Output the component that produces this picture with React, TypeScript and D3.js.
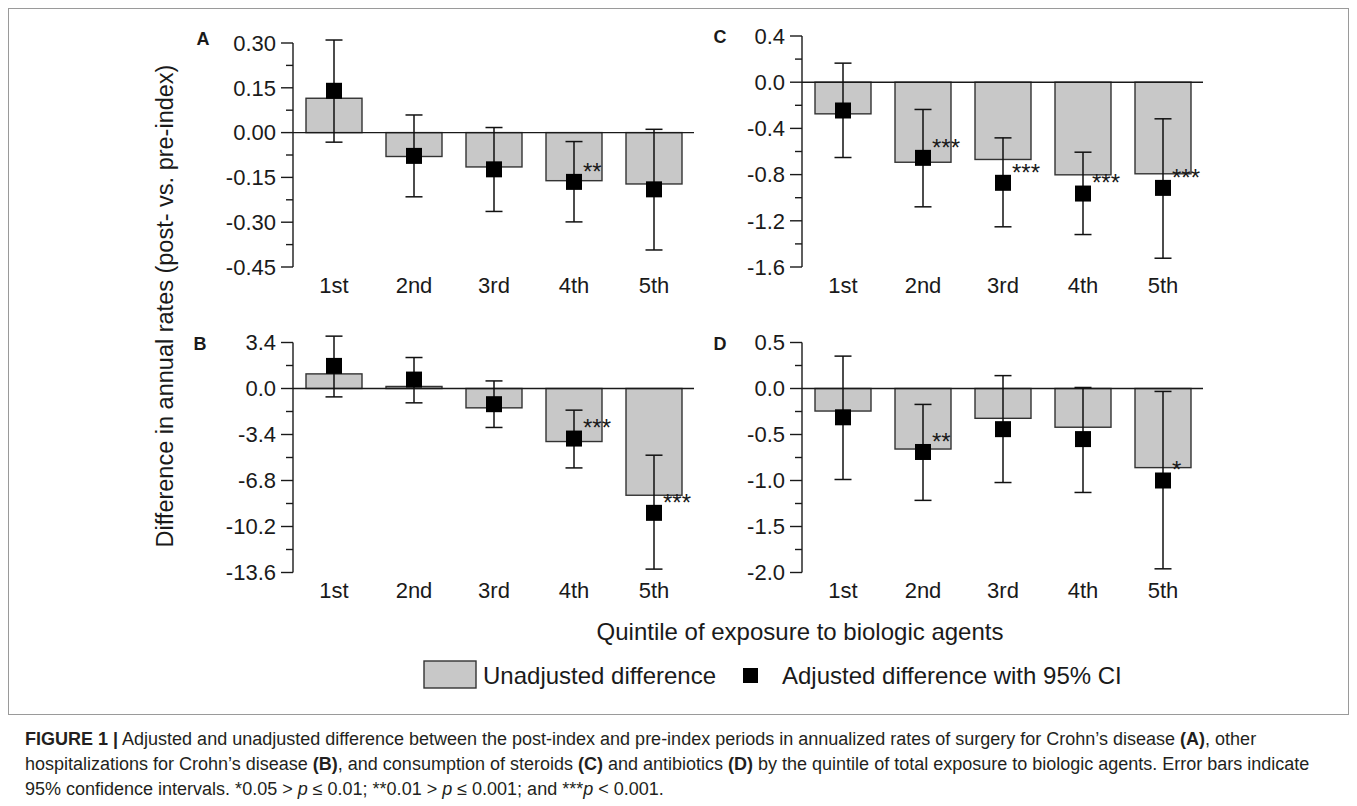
import React from "react";
import * as d3 from "d3";

// ---------- data ----------
const quintiles = ["1st", "2nd", "3rd", "4th", "5th"];

// Panel A: surgery for Crohn's disease
const surgeryTicks = [0.3, 0.15, 0.0, -0.15, -0.3, -0.45];
const surgeryUnadjusted = [0.115, -0.08, -0.115, -0.161, -0.172];
const surgeryAdjusted = [0.14, -0.078, -0.123, -0.165, -0.19];
const surgeryLow = [-0.032, -0.215, -0.264, -0.299, -0.393];
const surgeryHigh = [0.31, 0.059, 0.017, -0.03, 0.011];
const surgerySig = ["", "", "", "**", ""];

// Panel B: other hospitalizations
const hospTicks = [3.4, 0.0, -3.4, -6.8, -10.2, -13.6];
const hospUnadjusted = [1.08, 0.15, -1.43, -3.92, -7.89];
const hospAdjusted = [1.67, 0.66, -1.16, -3.7, -9.19];
const hospLow = [-0.62, -1.06, -2.88, -5.87, -13.35];
const hospHigh = [3.87, 2.29, 0.56, -1.6, -4.93];
const hospSig = ["", "", "", "***", "***"];

// Panel C: steroids
const steroidTicks = [0.4, 0.0, -0.4, -0.8, -1.2, -1.6];
const steroidUnadjusted = [-0.274, -0.693, -0.669, -0.802, -0.793];
const steroidAdjusted = [-0.245, -0.655, -0.871, -0.964, -0.915];
const steroidLow = [-0.652, -1.079, -1.252, -1.319, -1.524];
const steroidHigh = [0.165, -0.236, -0.482, -0.606, -0.317];
const steroidSig = ["", "***", "***", "***", "***"];

// Panel D: antibiotics
const antibioticTicks = [0.5, 0.0, -0.5, -1.0, -1.5, -2.0];
const antibioticUnadjusted = [-0.245, -0.658, -0.324, -0.421, -0.86];
const antibioticAdjusted = [-0.313, -0.69, -0.442, -0.55, -1.0];
const antibioticLow = [-0.989, -1.216, -1.022, -1.13, -1.96];
const antibioticHigh = [0.352, -0.173, 0.14, 0.011, -0.032];
const antibioticSig = ["", "**", "", "", "*"];

const yTitle = "Difference in annual rates (post- vs. pre-index)";
const xTitle = "Quintile of exposure to biologic agents";
const legendUnadj = "Unadjusted difference";
const legendAdj = "Adjusted difference with 95% CI";

// ---------- layout ----------
const FONT = "'Liberation Sans', Arial, Helvetica, sans-serif";
const INK = "#1a1a1a";
const BAR_FILL = "#c8c8c8";
const BAR_STROKE = "#333";

const locale = d3.formatLocale({
  decimal: ".",
  thousands: ",",
  grouping: [3],
  currency: ["", ""],
  minus: "-",
});

type Panel = {
  letter: string;
  ticks: number[];
  fmt: string;
  unadj: number[];
  adj: number[];
  lo: number[];
  hi: number[];
  sig: string[];
  x0: number;
  yTop: number;
  yBottom: number;
  letterX: number;
  letterY: number;
  labelY: number;
};

const panels: Panel[] = [
  { letter: "A", ticks: surgeryTicks, fmt: ".2f", unadj: surgeryUnadjusted, adj: surgeryAdjusted, lo: surgeryLow, hi: surgeryHigh, sig: surgerySig, x0: 294, yTop: 43, yBottom: 267, letterX: 203, letterY: 44.5, labelY: 293 },
  { letter: "B", ticks: hospTicks, fmt: ".1f", unadj: hospUnadjusted, adj: hospAdjusted, lo: hospLow, hi: hospHigh, sig: hospSig, x0: 294, yTop: 342.5, yBottom: 572.5, letterX: 200, letterY: 349.5, labelY: 598 },
  { letter: "C", ticks: steroidTicks, fmt: ".1f", unadj: steroidUnadjusted, adj: steroidAdjusted, lo: steroidLow, hi: steroidHigh, sig: steroidSig, x0: 803, yTop: 36, yBottom: 267, letterX: 720, letterY: 42.5, labelY: 293 },
  { letter: "D", ticks: antibioticTicks, fmt: ".1f", unadj: antibioticUnadjusted, adj: antibioticAdjusted, lo: antibioticLow, hi: antibioticHigh, sig: antibioticSig, x0: 803, yTop: 342.5, yBottom: 572.5, letterX: 720, letterY: 349.5, labelY: 598 },
];

function PanelView({ p }: { p: Panel }) {
  const y = d3
    .scaleLinear()
    .domain([p.ticks[0], p.ticks[p.ticks.length - 1]])
    .range([p.yTop, p.yBottom]);
  const x = d3
    .scaleBand<string>()
    .domain(quintiles)
    .range([p.x0, p.x0 + 400])
    .paddingInner(0.3)
    .paddingOuter(0.15);
  const fmt = locale.format(p.fmt);
  const axisX = p.x0 - 1;
  const minor = p.ticks.slice(0, -1).map((t, i) => (t + p.ticks[i + 1]) / 2);
  const bw = x.bandwidth();
  const sq = 16;
  const cap = 8.5;
  return (
    <g>
      <text x={p.letterX} y={p.letterY} fontSize={18} fontWeight="bold" textAnchor="middle" fill={INK}>
        {p.letter}
      </text>
      {/* bars */}
      {quintiles.map((q, i) => {
        const v = p.unadj[i];
        const y1 = y(Math.max(0, v));
        const y2 = y(Math.min(0, v));
        return (
          <rect key={"b" + q} x={x(q)} y={y1} width={bw} height={Math.max(0.5, y2 - y1)} fill={BAR_FILL} stroke={BAR_STROKE} strokeWidth={1.4} />
        );
      })}
      {/* zero line */}
      <line x1={axisX} x2={p.x0 + 400} y1={y(0)} y2={y(0)} stroke={INK} strokeWidth={1.4} />
      {/* y axis */}
      <line x1={axisX} x2={axisX} y1={y(p.ticks[0])} y2={y(p.ticks[p.ticks.length - 1])} stroke={INK} strokeWidth={1.4} />
      {p.ticks.map((t) => (
        <g key={"t" + t}>
          <line x1={axisX - 12} x2={axisX} y1={y(t)} y2={y(t)} stroke={INK} strokeWidth={1.4} />
          <text x={axisX - 17} y={y(t) + 7.8} fontSize={22} textAnchor="end" fill={INK}>
            {fmt(t)}
          </text>
        </g>
      ))}
      {minor.map((t) => (
        <line key={"m" + t} x1={axisX - 7} x2={axisX} y1={y(t)} y2={y(t)} stroke={INK} strokeWidth={1.4} />
      ))}
      {/* error bars and adjusted squares */}
      {quintiles.map((q, i) => {
        const cx = (x(q) as number) + bw / 2;
        return (
          <g key={"e" + q}>
            <line x1={cx} x2={cx} y1={y(p.hi[i])} y2={y(p.lo[i])} stroke="#111" strokeWidth={1.5} />
            <line x1={cx - cap} x2={cx + cap} y1={y(p.hi[i])} y2={y(p.hi[i])} stroke="#111" strokeWidth={1.5} />
            <line x1={cx - cap} x2={cx + cap} y1={y(p.lo[i])} y2={y(p.lo[i])} stroke="#111" strokeWidth={1.5} />
            <rect x={cx - sq / 2} y={y(p.adj[i]) - sq / 2} width={sq} height={sq} fill="#000" />
            {p.sig[i] && (
              <text x={cx + 9} y={y(p.adj[i]) - 2.2} fontSize={24} fill={INK}>
                {p.sig[i]}
              </text>
            )}
          </g>
        );
      })}
      {/* x labels */}
      {quintiles.map((q) => (
        <text key={"l" + q} x={(x(q) as number) + bw / 2} y={p.labelY} fontSize={22} textAnchor="middle" fill={INK}>
          {q}
        </text>
      ))}
    </g>
  );
}

export default function App() {
  return (
    <svg
      width={1357}
      height={806}
      style={{ position: "absolute", left: 0, top: 0, background: "#fff" }}
      fontFamily={FONT}
    >
      <rect x={0} y={0} width={1357} height={806} fill="#fff" />
      <rect x={8.5} y={8.5} width={1340} height={706} fill="none" stroke="#9a9a9a" strokeWidth={1} />
      {panels.map((p) => (
        <PanelView key={p.letter} p={p} />
      ))}
      <text transform="translate(173,306) rotate(-90)" fontSize={23.5} textAnchor="middle" fill={INK}>
        {yTitle}
      </text>
      <text x={800} y={640} fontSize={24} textAnchor="middle" fill={INK}>
        {xTitle}
      </text>
      {/* legend */}
      <rect x={424} y={661} width={52} height={27} fill={BAR_FILL} stroke={BAR_STROKE} strokeWidth={1.4} />
      <text x={483} y={683.5} fontSize={24} fill={INK}>
        {legendUnadj}
      </text>
      <rect x={743} y={668} width={15} height={15} fill="#000" />
      <text x={782} y={683.5} fontSize={24} fill={INK}>
        {legendAdj}
      </text>
      {/* caption */}
      <g fontSize={18} fill="#231f20">
        <text x={25} y={745}>
          <tspan fontWeight="bold">FIGURE 1 |</tspan> Adjusted and unadjusted difference between the post-index and pre-index periods in annualized rates of surgery for Crohn’s disease <tspan fontWeight="bold">(A)</tspan>, other
        </text>
        <text x={25} y={770}>
          hospitalizations for Crohn’s disease <tspan fontWeight="bold">(B)</tspan>, and consumption of steroids <tspan fontWeight="bold">(C)</tspan> and antibiotics <tspan fontWeight="bold">(D)</tspan> by the quintile of total exposure to biologic agents. Error bars indicate
        </text>
        <text x={25} y={794.5}>
          95% confidence intervals. *0.05 &gt; <tspan fontStyle="italic">p</tspan> ≤ 0.01; **0.01 &gt;  <tspan fontStyle="italic">p</tspan> ≤ 0.001; and ***<tspan fontStyle="italic">p</tspan> &lt; 0.001.
        </text>
      </g>
    </svg>
  );
}
